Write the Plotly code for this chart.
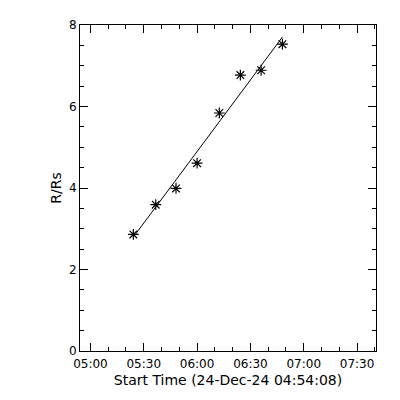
import numpy as np
import pandas as pd
import plotly.graph_objects as go

# Data
times = ["2024-12-24 05:24:08", "2024-12-24 05:36:44", "2024-12-24 05:48:08",
         "2024-12-24 06:00:00", "2024-12-24 06:12:30", "2024-12-24 06:24:20",
         "2024-12-24 06:36:00", "2024-12-24 06:48:00"]
heights = [2.86, 3.59, 3.99, 4.61, 5.84, 6.77, 6.89, 7.53]
start_time = "2024-12-24 04:54:08"
end_time = "2024-12-24 07:40:38"
x_title = "Start Time (24-Dec-24 04:54:08)"
y_title = "R/Rs"

t = pd.to_datetime(times)
t0 = pd.Timestamp(start_time)
mins = np.array([(ti - t0).total_seconds() / 60.0 for ti in t])
slope, icpt = np.polyfit(mins, np.array(heights), 1)
fit_t = [t[0], t[-1]]
fit_y = [icpt + slope * mins[0], icpt + slope * mins[-1]]

fig = go.Figure()
fig.add_trace(go.Scatter(x=fit_t, y=fit_y, mode="lines",
                         line=dict(color="black", width=1), showlegend=False))
fig.add_trace(go.Scatter(x=t, y=heights, mode="markers",
                         marker=dict(symbol="asterisk-open", size=9, color="black",
                                     line=dict(color="black", width=1.2)),
                         showlegend=False))

font = dict(family="DejaVu Sans", size=12, color="black")
fig.update_layout(
    width=400, height=400,
    margin=dict(l=80, r=24, t=25, b=49),
    paper_bgcolor="white", plot_bgcolor="white",
    font=font,
    xaxis=dict(type="date", range=[start_time, end_time], automargin=False,
               tickformat="%H:%M", dtick=1800000, tick0="2024-12-24 05:00:00",
               ticks="inside", ticklen=8, tickwidth=1, tickcolor="black",
               ticklabelstandoff=2,
               minor=dict(dtick=600000, tick0="2024-12-24 05:00:00", ticks="inside",
                          ticklen=4, tickcolor="black", showgrid=False),
               showline=True, linecolor="black", linewidth=1, mirror="allticks",
               showgrid=False, zeroline=False,
               title=dict(text=x_title, standoff=4), tickfont=font),
    yaxis=dict(range=[0, 8], dtick=2, ticks="inside", ticklen=8, tickwidth=1,
               tickcolor="black", automargin=False,
               minor=dict(dtick=0.5, ticks="inside", ticklen=4, tickcolor="black",
                          showgrid=False),
               showline=True, linecolor="black", linewidth=1, mirror="allticks",
               showgrid=False, zeroline=False,
               title=dict(text=y_title, standoff=4), tickfont=font),
)
fig.write_html("out.html", config={"displayModeBar": False},
               post_script="document.body.style.margin='0';document.body.style.overflow='hidden';")
